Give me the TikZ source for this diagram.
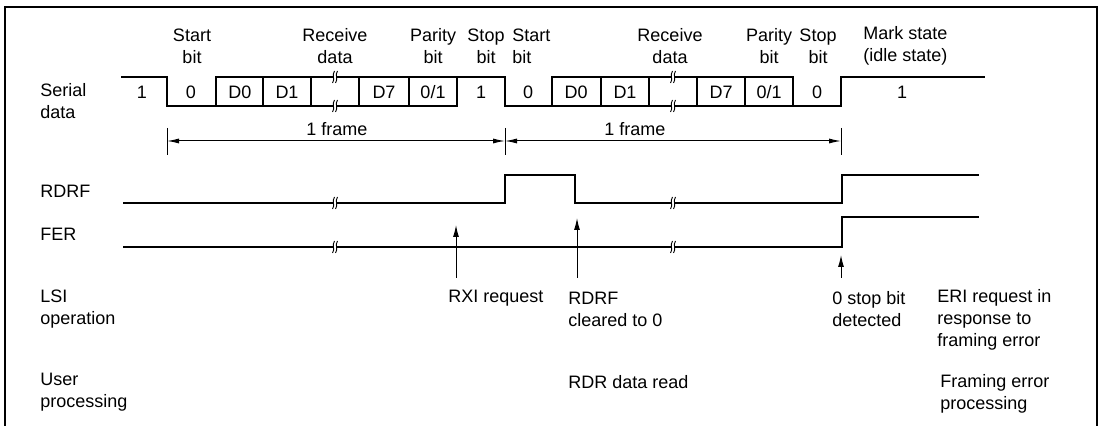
\documentclass[tikz,border=0pt]{standalone}
\usepackage{fontspec}
\setmainfont{Liberation Sans}
\usetikzlibrary{arrows.meta,positioning}
\newcommand{\wavebreak}[2]{%
    % #1=x, #2=y
    \fill[white] (#1-1.5,#2-2.2) rectangle (#1+1.5,#2+2.2);
    \draw[line width=0.45pt] (#1-0.5,#2-6) .. controls (#1-3.5,#2-2) and (#1+0.5,#2+2) .. (#1-2.5,#2+6);
    \draw[line width=0.45pt] (#1+2.5,#2-6) .. controls (#1-0.5,#2-2) and (#1+3.5,#2+2) .. (#1+0.5,#2+6);
}

\begin{document}
\begin{tikzpicture}[x=0.5pt, y=-0.5pt,
    every node/.style={font=\fontsize{9}{11}\selectfont, inner sep=0pt},
    lbl/.style={align=center},
    lbll/.style={align=left, anchor=west},
    sig/.style={line width=1pt},
    dim/.style={line width=0.5pt},
    dimarrow/.style={line width=0.5pt, {Latex[length=6pt,width=2.5pt]}-{Latex[length=6pt,width=2.5pt]}},
    req/.style={line width=0.5pt, -{Latex[length=6pt,width=3pt]}}
]
    \useasboundingbox (0,0) rectangle (1102,426);
    \draw[line width=1.2pt] (5,426) -- (5,7) -- (1097,7) -- (1097,426);

    % labels above the serial data
    \node[lbll] (serial) at (40,101) {Serial\\data};
    \node[lbl] (start1) at (192,46) {Start\\bit};
    \node[lbl] (recv1) at (335,46) {Receive\\data};
    \node[lbl] (par1) at (433,46) {Parity\\bit};
    \node[lbl] (stop1) at (486,46) {Stop\\bit};
    \node[lbll] (start2) at (512,46) {Start\\bit};
    \node[lbl] (recv2) at (670,46) {Receive\\data};
    \node[lbl] (par2) at (769,46) {Parity\\bit};
    \node[lbl] (stop2) at (818,46) {Stop\\bit};
    \node[lbll] (mark) at (863,46) {Mark state\\(idle state)};

    \foreach \x/\t [count=\i] in {142/1, 191/0, 240/D0, 287/D1, 384/D7, 433/{0/1}, 481/1,
        528/0, 576/D0, 625/D1, 721/D7, 769/{0/1}, 817/0, 902/1}
        \node (bit\i) at (\x,92) {\t};

    % serial data
    \draw[sig] (121,77) -| (167,106) -- (457,106) -- (457,77);
    \draw[sig] (216,106) |- (505,77) |- (841,106) -- (841,77) -- (985,77);
    \draw[sig] (552,106) |- (793,77) -- (793,106);
    \foreach \x in {263,311,359,409,601,649,697,745}
        \draw[sig] (\x,77) -- (\x,106);

    % frames
    \coordinate (f0) at (167,141);
    \coordinate (f1) at (505,141);
    \coordinate (f2) at (841,141);
    \foreach \x in {167,505,841}
        \draw[dim] (\x,128) -- (\x,155);
    \draw[dimarrow] (f0) -- (f1);
    \draw[dimarrow] (f1) -- (f2);
    \node (frame1) at (337,129) {1 frame};
    \node (frame2) at (635,129) {1 frame};

    % flags
    \node[lbll] (rdrf) at (40,191) {RDRF};
    \node[lbll] (fer) at (40,234) {FER};
    \draw[sig] (123,203) -- (505,203) -- (505,175) -- (575,175) -- (575,203) -- (842,203) -- (842,175) -- (979,175);
    \draw[sig] (123,247) -- (842,247) -- (842,217) -- (979,217);

    \foreach \x in {335,673}
        \foreach \y in {77,106,203,247}
            {\wavebreak{\x}{\y}}

    % LSI operation and user processing
    \node[lbll] (lsi) at (40,309) {LSI\\operation};
    \node[lbll] (rxi) at (448,298) {RXI request};
    \node[lbll] (clr) at (568,309) {RDRF\\cleared to 0};
    \node[lbll] (stopdet) at (832,309) {0 stop bit\\detected};
    \node[lbll] (eri) at (937,320) {ERI request in\\response to\\framing error};
    \node[lbll] (user) at (40,392) {User\\processing};
    \node[lbll] (rdr) at (568,382) {RDR data read};
    \node[lbll] (fep) at (940,394) {Framing error\\processing};

    \coordinate (rxi-from) at (456,278);
    \coordinate (rxi-to) at (456,225);
    \coordinate (clr-from) at (577,278);
    \coordinate (clr-to) at (577,218);
    \coordinate (det-from) at (841,278);
    \coordinate (det-to) at (841,255);
    \draw[req] (rxi-from) -- (rxi-to);
    \draw[req] (clr-from) -- (clr-to);
    \draw[req] (det-from) -- (det-to);
\end{tikzpicture}
\end{document}
